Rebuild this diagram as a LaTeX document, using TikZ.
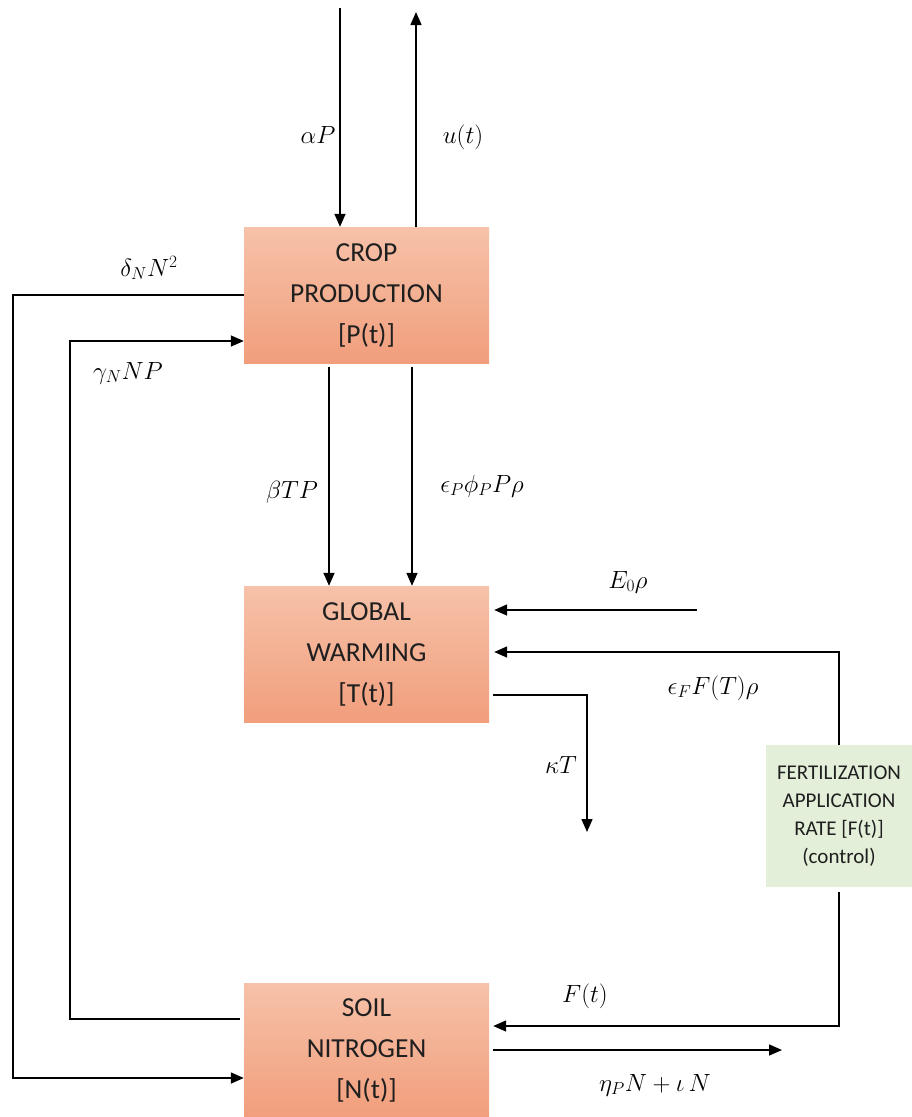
\documentclass[tikz,border=0pt]{standalone}
\usepackage{fontspec}
\setmainfont{Carlito}
\usetikzlibrary{calc,arrows.meta}
\definecolor{boxtop}{HTML}{F6C2A9}
\definecolor{boxbot}{HTML}{F19E7C}
\definecolor{ctrlgreen}{HTML}{E3EFD9}
\begin{document}
\begin{tikzpicture}[x=1pt,y=-1pt,
  box/.style={rectangle, draw=none, top color=boxtop, bottom color=boxbot,
    minimum width=245pt, minimum height=136pt, inner sep=0pt, align=center,
    font=\fontsize{27.5}{41}\selectfont, text=black!88},
  ctrl/.style={rectangle, fill=ctrlgreen, minimum width=146pt, minimum height=142pt,
    inner sep=0pt, align=center, font=\fontsize{21}{28}\selectfont, text=black!88},
  lbl/.style={inner sep=0pt, font=\fontsize{25}{28}\selectfont},
  flow/.style={line width=1.5pt, -{Triangle[length=13pt,width=11pt]}}]
\useasboundingbox (0,0) rectangle (912,1117);
\node[box] (crop) at (366.5,295) {CROP\\PRODUCTION\\{[P(t)]}};
\node[box] (glob) at (366.5,654) {GLOBAL\\WARMING\\{[T(t)]}};
\node[box, minimum height=134pt] (soil) at (366.5,1050) {SOIL\\NITROGEN\\{[N(t)]}};
\node[ctrl] (fert) at (839,816) {FERTILIZATION\\APPLICATION\\RATE [F(t)]\\(control)};
% coordinates for free ends and bends
\coordinate (aPtop) at (340,8);
\coordinate (utop) at (416,12);
\coordinate (dl) at (13,0);
\coordinate (gx) at (70,0);
\coordinate (dIn) at ($(soil.west)+(0,28)$);
\coordinate (gOut) at ($(soil.west)+(-4,-31)$);
\coordinate (gIn) at ($(crop.west)+(0,46)$);
\coordinate (b1) at (329,0);
\coordinate (b2) at (412,0);
\coordinate (e0) at (697,610);
\coordinate (ef) at (0,652);
\coordinate (kS) at ($(glob.east)+(4,41)$);
\coordinate (kx) at (587,832);
\coordinate (fy) at (0,1026);
\coordinate (eta) at (782,1050);
% connectors
\draw[flow] (aPtop) -- (aPtop |- crop.north);
\draw[flow] (utop |- crop.north) -- (utop);
\draw[flow] (crop.west) -- (crop.west -| dl) -- (dl |- dIn) -- (dIn);
\draw[flow] (gOut) -- (gOut -| gx) -- (gx |- gIn) -- (gIn);
\draw[flow] ($(crop.south -| b1)+(0,4)$) -- (glob.north -| b1);
\draw[flow] ($(crop.south -| b2)+(0,4)$) -- (glob.north -| b2);
\draw[flow] (e0) -- ($(glob.east |- e0)+(5,0)$);
\draw[flow] (fert.north) -- (fert.north |- ef) -- ($(glob.east |- ef)+(5,0)$);
\draw[flow] (kS) -- (kS -| kx) -- (kx);
\draw[flow] ($(fert.south)+(0,5)$) -- (fert.south |- fy) -- ($(soil.east |- fy)+(4,0)$);
\draw[flow] ($(soil.east)+(4,0)$) -- (eta);
% labels
\node[lbl] (lalpha) at (318,135) {$\alpha P$};
\node[lbl] (lu) at (463,137) {$u(t)$};
\node[lbl] (ldelta) at (149,268) {$\delta_N N^2$};
\node[lbl] (lgamma) at (128,373) {$\gamma_N NP$};
\node[lbl] (lbeta) at (292,492) {$\beta TP$};
\node[lbl] (lepsP) at (482,486) {$\epsilon_P\phi_P P\rho$};
\node[lbl] (lE) at (628,582) {$E_0\rho$};
\node[lbl] (lepsF) at (713,688) {$\epsilon_F F(T)\rho$};
\node[lbl] (lkappa) at (561,765) {$\kappa T$};
\node[lbl] (lF) at (585,996) {$F(t)$};
\node[lbl] (leta) at (655,1085) {$\eta_P N + \iota\, N$};
\end{tikzpicture}
\end{document}
